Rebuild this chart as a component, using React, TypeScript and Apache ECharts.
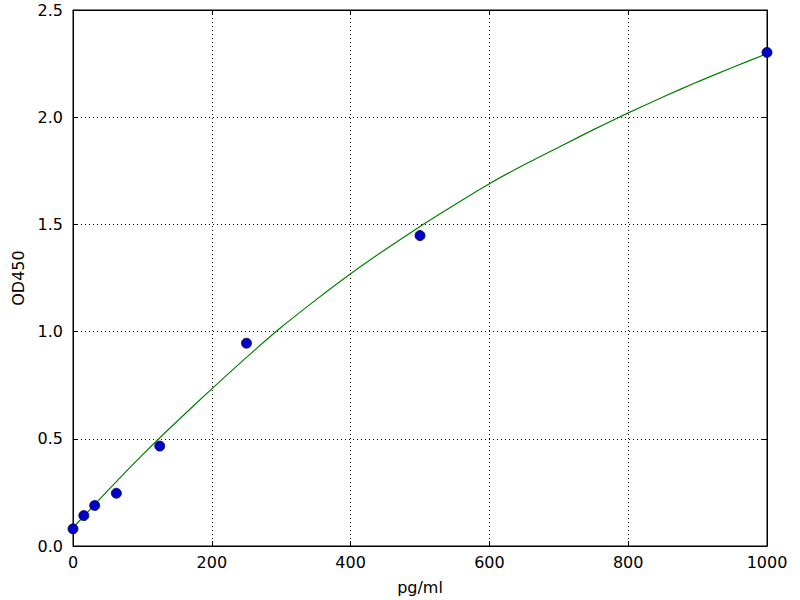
import React, { useEffect, useRef } from "react";
import * as echarts from "echarts";

const concentrations = [0, 15.6, 31.25, 62.5, 125, 250, 500, 1000];
const odValues = [0.08, 0.142, 0.189, 0.246, 0.466, 0.946, 1.448, 2.302];

const curveX = [0, 50, 100, 150, 200, 250, 300, 350, 400, 450, 500, 550, 600, 650, 700, 750, 800, 850, 900, 950, 1000];
const curveY = [
  0.085, 0.258, 0.425, 0.582, 0.733, 0.88, 1.02, 1.148, 1.27, 1.383, 1.49,
  1.592, 1.69, 1.778, 1.86, 1.942, 2.02, 2.094, 2.165, 2.232, 2.296,
];

const xTicks = [0, 200, 400, 600, 800, 1000];
const yTicks = [0, 0.5, 1.0, 1.5, 2.0, 2.5];

export default function App() {
  const ref = useRef<HTMLDivElement>(null);
  useEffect(() => {
    if (!ref.current) return;
    const chart = echarts.init(ref.current, null, { renderer: "svg" });
    const font = "DejaVu Sans";
    const baseAxis = {
      type: "value" as const,
      axisLine: { show: true, onZero: false, lineStyle: { color: "#000", width: 1 } },
      axisTick: { show: true, inside: true, length: 5, lineStyle: { color: "#000", width: 1 } },
    };
    chart.setOption({
      animation: false,
      backgroundColor: "#fff",
      textStyle: { fontFamily: font },
      grid: { left: 73, right: 33, top: 10, bottom: 53.5, show: true, borderColor: "#000", borderWidth: 1 },
      xAxis: [
        {
          ...baseAxis,
          position: "bottom",
          min: xTicks[0],
          max: xTicks[xTicks.length - 1],
          interval: 200,
          name: "pg/ml",
          nameLocation: "middle",
          nameGap: 33,
          nameTextStyle: { fontFamily: font, fontSize: 16, color: "#000" },
          axisLabel: {
            fontFamily: font,
            fontSize: 16,
            color: "#000",
            margin: 8,
            formatter: (v: number) => String(v),
          },
          splitLine: { show: true, lineStyle: { color: "#000", type: [1, 3], width: 1 } },
        },
        {
          ...baseAxis,
          position: "top",
          min: xTicks[0],
          max: xTicks[xTicks.length - 1],
          interval: 200,
          axisLabel: { show: false },
          splitLine: { show: false },
        },
      ],
      yAxis: [
        {
          ...baseAxis,
          position: "left",
          min: yTicks[0],
          max: yTicks[yTicks.length - 1],
          interval: 0.5,
          name: "OD450",
          nameLocation: "middle",
          nameGap: 47,
          nameTextStyle: { fontFamily: font, fontSize: 16, color: "#000" },
          axisLabel: {
            fontFamily: font,
            fontSize: 16,
            color: "#000",
            margin: 10,
            formatter: (v: number) => v.toFixed(1),
          },
          splitLine: { show: true, lineStyle: { color: "#000", type: [1, 3], width: 1 } },
        },
        {
          ...baseAxis,
          position: "right",
          min: yTicks[0],
          max: yTicks[yTicks.length - 1],
          interval: 0.5,
          axisLabel: { show: false },
          splitLine: { show: false },
        },
      ],
      series: [
        {
          type: "line",
          data: curveX.map((x, i) => [x, curveY[i]]),
          smooth: 0.2,
          showSymbol: false,
          symbol: "none",
          lineStyle: { color: "#008000", width: 1.2 },
          z: 2,
        },
        {
          type: "scatter",
          data: concentrations.map((x, i) => [x, odValues[i]]),
          symbolSize: 10,
          itemStyle: { color: "#0000c8", borderColor: "#000050", borderWidth: 0.8, opacity: 1 },
          z: 3,
        },
      ],
    });
    return () => chart.dispose();
  }, []);
  return (
    <div
      ref={ref}
      style={{ position: "fixed", left: 0, top: 0, width: 800, height: 600, background: "#fff" }}
    />
  );
}
